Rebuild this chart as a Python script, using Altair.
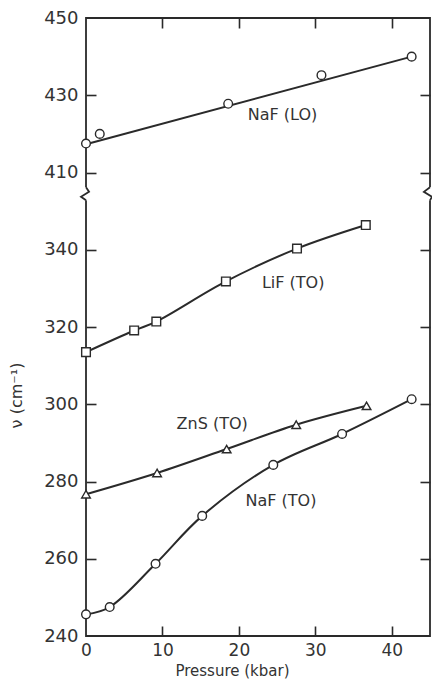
import altair as alt
import pandas as pd

# ---- data ----
naf_lo_p = [0.0, 1.8, 18.6, 30.8, 42.6]
naf_lo_v = [417.5, 420.0, 427.8, 435.2, 440.0]
naf_lo_fit_p = [0.0, 42.6]
naf_lo_fit_v = [417.3, 440.0]

lif_p = [0.0, 6.3, 9.2, 18.3, 27.6, 36.6]
lif_v = [313.5, 319.1, 321.4, 331.8, 340.3, 346.4]

zns_p = [0.0, 9.3, 18.4, 27.5, 36.7]
zns_v = [276.7, 282.2, 288.4, 294.7, 299.6]

naf_to_p = [0.0, 3.1, 9.1, 15.2, 24.5, 33.5, 42.6]
naf_to_v = [245.6, 247.5, 258.7, 271.1, 284.3, 292.3, 301.3]

label_text = ["NaF (LO)", "LiF (TO)", "ZnS (TO)", "NaF (TO)"]
label_p = [25.7, 27.1, 16.5, 25.5]
label_v = [425.0, 331.4, 294.9, 274.9]

series_names = ["NaF (LO)", "LiF (TO)", "ZnS (TO)", "NaF (TO)"]
series_shapes = ["circle", "square", "triangle-up", "circle"]

x_ticks = [0, 10, 20, 30, 40]
y_tick_values = [240, 260, 280, 300, 320, 340, 410, 430, 450]

# axis break: values above the break are drawn shifted down by this gap
break_gap = 50
break_lo, break_hi = 352.8, 356.2
break_p = [0, 45]
zig_side = ["L"] * 4 + ["R"] * 4
zig_p = [0.0, 0.4, -0.65, 0.0, 45.0, 44.2, 45.25, 45.0]
zig_v = [356.2, 355.0, 353.7, 352.8, 356.2, 355.0, 353.7, 352.8]

# ---- tables ----
pts = pd.concat([
    pd.DataFrame({"series": s, "p": p, "v": v})
    for s, p, v in [("NaF (LO)", naf_lo_p, naf_lo_v), ("LiF (TO)", lif_p, lif_v),
                    ("ZnS (TO)", zns_p, zns_v), ("NaF (TO)", naf_to_p, naf_to_v)]
], ignore_index=True)
curves = pd.concat([
    pd.DataFrame({"series": s, "p": p, "v": v})
    for s, p, v in [("NaF (LO)", naf_lo_fit_p, naf_lo_fit_v), ("LiF (TO)", lif_p, lif_v),
                    ("ZnS (TO)", zns_p, zns_v), ("NaF (TO)", naf_to_p, naf_to_v)]
], ignore_index=True)
labels = pd.DataFrame({"text": label_text, "p": label_p, "v": label_v})
cover = pd.DataFrame({"p": break_p, "vp": [break_hi] * 2, "vp2": [break_lo] * 2})
zig = pd.DataFrame({"side": zig_side, "p": zig_p, "vp": zig_v, "o": list(range(8))})

shift = f"datum.v > 380 ? datum.v - {break_gap} : datum.v"

FONT = "DejaVu Sans"
INK = "#2a2a2a"
W, H = 344, 618

x_scale = alt.Scale(domain=[0, 45], nice=False, zero=False)
y_scale = alt.Scale(domain=[240, 400], nice=False, zero=False)
y_plot_ticks = [v - break_gap if v > 380 else v for v in y_tick_values]
inner_y = [v for v in y_plot_ticks if 240 < v < 400]
inner_x = [v for v in x_ticks if v > 0]

ax_x_main = alt.Axis(orient="bottom", values=x_ticks, ticks=False, domain=False, grid=False,
                     labelFont=FONT, labelFontSize=17, labelColor="#333", labelPadding=6,
                     labelFlush=False, title="Pressure (kbar)", titleFont=FONT, titleFontSize=15,
                     titleFontWeight="normal", titleColor="#333", titleX=146, titleY=34,
                     titleAlign="center", titleBaseline="middle")
ax_y_main = alt.Axis(orient="left", values=y_plot_ticks, ticks=False, domain=False, grid=False,
                     labelExpr=f"datum.value > 350 ? '' + (datum.value + {break_gap}) : datum.label",
                     labelFont=FONT, labelFontSize=18, labelColor="#333", labelPadding=8,
                     labelFlush=False, title="ν (cm⁻¹)", titleFont=FONT, titleFontSize=16,
                     titleFontWeight="normal", titleColor="#333", titleX=-70, titleY=377,
                     titleAlign="center", titleBaseline="middle")
tick_style = dict(labels=False, domain=False, grid=False, ticks=True, tickSize=10,
                  tickColor=INK, tickWidth=1.6, title=None)
ax_y_left_in = alt.Axis(orient="right", offset=-W, values=inner_y, **tick_style)
ax_y_right_in = alt.Axis(orient="left", offset=-W, values=inner_y, **tick_style)
ax_x_bottom_in = alt.Axis(orient="top", offset=-H, values=inner_x, **tick_style)
ax_x_top_in = alt.Axis(orient="bottom", offset=-H, values=inner_x, **tick_style)

cover_layer = alt.Chart(cover).mark_rule(color="white", strokeWidth=7).encode(
    x=alt.X("p:Q", scale=x_scale, axis=ax_x_main),
    y=alt.Y("vp:Q", scale=y_scale, axis=ax_y_main),
    y2="vp2:Q",
)
zig_layer = alt.Chart(zig).mark_line(color=INK, strokeWidth=1.8).encode(
    x=alt.X("p:Q", scale=x_scale, axis=ax_x_bottom_in),
    y=alt.Y("vp:Q", scale=y_scale, axis=ax_y_left_in),
    detail="side:N",
    order="o:Q",
)
line_layer = alt.Chart(curves).transform_calculate(vp=shift).mark_line(
    color=INK, strokeWidth=2, interpolate="catmull-rom").encode(
    x=alt.X("p:Q", scale=x_scale, axis=ax_x_top_in),
    y=alt.Y("vp:Q", scale=y_scale, axis=ax_y_right_in),
    detail="series:N",
)
point_layer = alt.Chart(pts).transform_calculate(vp=shift).mark_point(
    filled=True, fill="white", stroke=INK, strokeWidth=1.4, size=75, opacity=1).encode(
    x=alt.X("p:Q", scale=x_scale, axis=None),
    y=alt.Y("vp:Q", scale=y_scale, axis=None),
    shape=alt.Shape("series:N", scale=alt.Scale(domain=series_names, range=series_shapes),
                    legend=None),
)
text_layer = alt.Chart(labels).transform_calculate(vp=shift).mark_text(
    font=FONT, fontSize=16, color="#333", baseline="middle", align="center").encode(
    x=alt.X("p:Q", scale=x_scale, axis=None),
    y=alt.Y("vp:Q", scale=y_scale, axis=None),
    text="text:N",
)

chart = alt.layer(cover_layer, zig_layer, line_layer, point_layer, text_layer).properties(
    width=W, height=H,
    autosize=alt.AutoSizeParams(type="none"),
    padding={"left": 78, "top": 10, "right": 2, "bottom": 44},
    background="white",
).configure_view(stroke=INK, strokeWidth=1.8)

chart.save("out.html", embed_options={"renderer": "svg", "actions": False})
